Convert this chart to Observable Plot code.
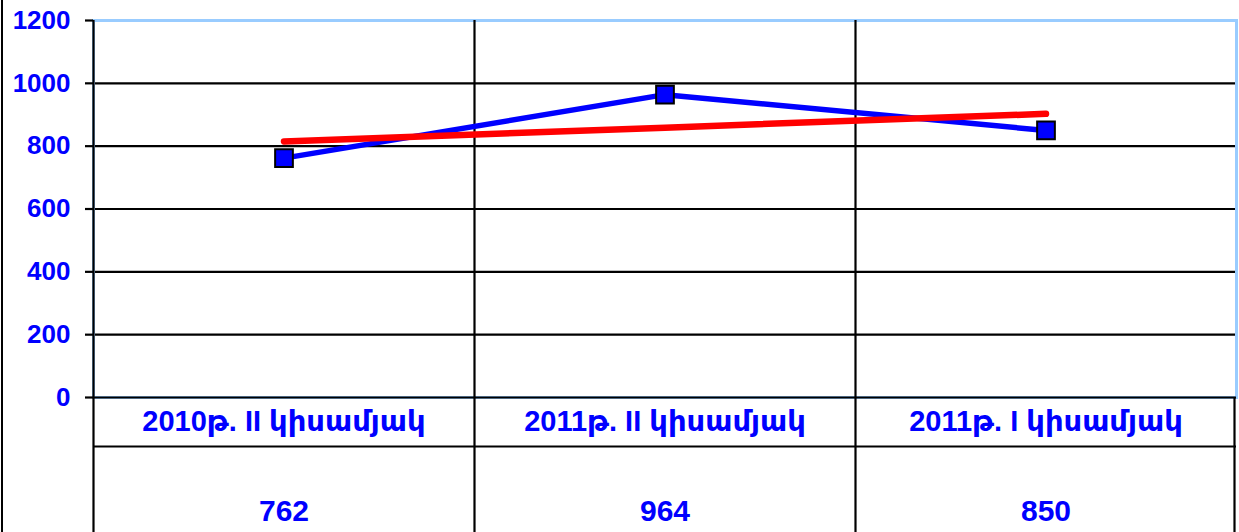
<!DOCTYPE html>
<html>
<head>
<meta charset="utf-8">
<script src="https://cdn.jsdelivr.net/npm/d3@7"></script>
<script src="https://cdn.jsdelivr.net/npm/@observablehq/plot@0.6"></script>
<style>
  body { margin: 0; background: #fff; }
  #wrap { position: relative; width: 1239px; height: 532px; overflow: hidden; }
  #edge { position: absolute; left: 1px; top: 0; width: 2px; height: 532px; background: #000; }
</style>
</head>
<body>
<div id="wrap"><div id="edge"></div></div>
<script>
const categories = ["2010թ. II կիսամյակ", "2011թ. II կիսամյակ", "2011թ. I կիսամյակ"];
const values = [762, 964, 850];
const trend = [815, 859, 903];
const yTicks = [0, 200, 400, 600, 800, 1000, 1200];

const data = categories.map((c, i) => ({cat: c, value: values[i], trend: trend[i]}));

const W = 1239, H = 532, ML = 93, MR = 3, MT = 20, MB = 135;
const bw = (W - ML - MR) / categories.length;
const blue = "#0000ff";
const font = "'Liberation Sans', Arial, 'DejaVu Sans', sans-serif";

const chart = Plot.plot({
  width: W, height: H,
  marginLeft: ML, marginRight: MR, marginTop: MT, marginBottom: MB,
  style: {fontFamily: font, fontWeight: "bold", background: "transparent", overflow: "visible"},
  x: {type: "band", domain: categories, padding: 0, axis: null},
  y: {domain: [0, 1200], axis: null},
  marks: [
    Plot.gridY(yTicks, {stroke: "black", strokeOpacity: 1, strokeWidth: 2.2}),
    Plot.frame({stroke: "#99ccff", strokeWidth: 3}),
    // vertical category dividers running through the data table
    Plot.ruleX(categories, {x: d => d, dx: -bw / 2, stroke: "black", strokeWidth: 2.2, insetBottom: -(MB + 10)}),
    // right edge of the table
    Plot.ruleX(categories.slice(-1), {x: d => d, dx: bw / 2 - 2, stroke: "black", strokeWidth: 2.2, insetTop: H - MT - MB, insetBottom: -(MB + 10)}),
    // baseline and table row separator
    Plot.ruleY([0], {stroke: "black", strokeWidth: 2.2}),
    Plot.ruleY([0], {stroke: "black", strokeWidth: 2.2, dy: 49}),
    Plot.axisY({ticks: yTicks, tickSize: 8, tickPadding: 15, fontSize: 26, fill: blue, stroke: "black", strokeWidth: 2.2, tickFormat: "d"}),
    // data table text
    Plot.text(data, {x: "cat", text: "cat", frameAnchor: "bottom", lineAnchor: "middle", dy: 24, fontSize: 29, fill: blue}),
    Plot.text(data, {x: "cat", text: d => String(d.value), frameAnchor: "bottom", lineAnchor: "middle", dy: 114, fontSize: 30, fill: blue}),
    // series
    Plot.line(data, {x: "cat", y: "value", stroke: blue, strokeWidth: 5.5}),
    Plot.line(data, {x: "cat", y: "trend", stroke: "#ff0000", strokeWidth: 6.5}),
    Plot.dot(data, {x: "cat", y: "value", symbol: "square", r: 10, fill: blue, stroke: "black", strokeWidth: 2})
  ]
});
document.getElementById("wrap").prepend(chart);
</script>
</body>
</html>
